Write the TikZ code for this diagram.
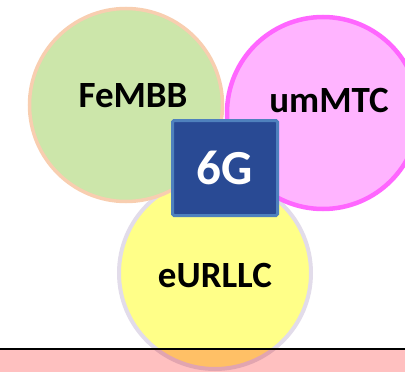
\documentclass[tikz,border=0pt]{standalone}
\usepackage{fontspec}
\setmainfont{Carlito}
\usepackage{tikz}

\definecolor{leafgreen}{RGB}{204,230,170}
\definecolor{peach}{RGB}{248,206,176}
\definecolor{lilac}{RGB}{255,180,255}
\definecolor{magentaline}{RGB}{255,102,255}
\definecolor{lemon}{RGB}{255,255,136}
\definecolor{haze}{RGB}{226,220,234}
\definecolor{navybox}{RGB}{41,74,148}
\definecolor{steelline}{RGB}{79,129,189}
\definecolor{rosefloor}{RGB}{255,192,192}

\tikzset{
  usecase/.style={draw, circle, minimum size=192pt, inner sep=0pt},
  caselabel/.style={font=\fontsize{37}{37}\selectfont\bfseries, text=black}
}

\begin{document}
\begin{tikzpicture}[x=1pt, y=-1pt]
                            \useasboundingbox (0,0) rectangle (405,372);

                            % Three use-case circles
                            \node[usecase, fill=lemon, draw=haze, line width=4pt] (eurllc) at (215,273) {};
                            \node[usecase, fill=leafgreen, draw=peach, line width=3.5pt, minimum size=193pt] (fembb) at (126,105) {};
                            \node[usecase, fill=lilac, draw=magentaline, line width=4.5pt] (ummtc) at (323,113) {};

                            % Labels of the circles
                            \node[caselabel] (fembbtext) at (133,96) {FeMBB};
                            \node[caselabel] (ummtctext) at (329,101) {umMTC};
                            \node[caselabel] (eurllctext) at (215,276) {eURLLC};

                            % Central 6G box
                            \node[draw=steelline, fill=navybox, line width=3pt, rounded corners=1.5pt, minimum width=105pt, minimum height=95pt, text=white, font=\fontsize{49}{49}\selectfont\bfseries] (sixg) at (225,168) {6G};

                            % Pink band at the bottom
                            \fill[rosefloor, blend mode=multiply] (0,349) rectangle (405,372);
                            \draw[line width=1.2pt] (0,349) -- (405,349);

                        \end{tikzpicture}
\end{document}
